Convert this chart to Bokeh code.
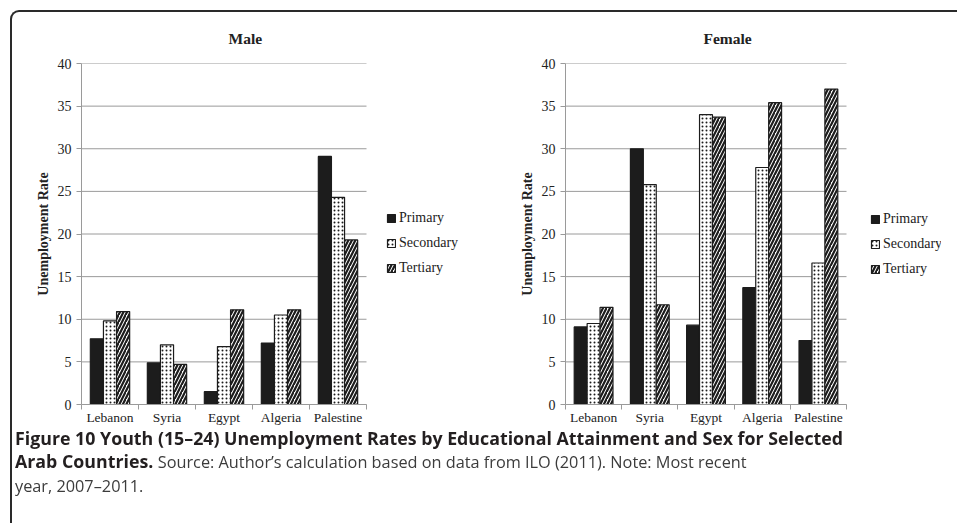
from bokeh.plotting import figure
from bokeh.models import Legend, LegendItem, FixedTicker, Div, Range1d
from bokeh.layouts import row, column
from bokeh.embed import file_html
from bokeh.resources import INLINE

countries = ["Lebanon", "Syria", "Egypt", "Algeria", "Palestine"]
levels = ["Primary", "Secondary", "Tertiary"]

male_primary = [7.7, 4.9, 1.5, 7.2, 29.1]
male_secondary = [9.8, 7.0, 6.8, 10.5, 24.3]
male_tertiary = [10.9, 4.7, 11.1, 11.1, 19.3]

female_primary = [9.1, 30.0, 9.3, 13.7, 7.5]
female_secondary = [9.5, 25.8, 34.0, 27.8, 16.6]
female_tertiary = [11.4, 11.7, 33.7, 35.4, 37.0]

y_ticks = [0, 5, 10, 15, 20, 25, 30, 35, 40]

SERIF = "Liberation Serif"
GRID = "#9a9a9a"
INK = "#1c1c1c"

styles = {
    "Primary": dict(fill_color=INK, hatch_pattern=None),
    "Secondary": dict(fill_color="white", hatch_pattern="dot", hatch_scale=4, hatch_weight=1.1),
    "Tertiary": dict(fill_color="white", hatch_pattern="right_diagonal_line", hatch_scale=7, hatch_weight=2.2),
}


def make_panel(title, series, width, left, right, px_per_cat, title_offset, legend_loc):
    n_cat = len(countries)
    frame_w = width - left - right
    x_end = frame_w / px_per_cat  # extra room on the right of the categories holds the legend
    p = figure(width=width, height=427, x_range=Range1d(0, x_end), y_range=Range1d(0, 40),
               output_backend="svg", toolbar_location=None,
               min_border_left=left, min_border_right=right,
               min_border_top=63, min_border_bottom=17)
    p.outline_line_color = None
    p.title.text = title
    p.title.align = "left"
    p.title.text_font = SERIF
    p.title.text_font_style = "bold"
    p.title.text_font_size = "15.5px"
    p.title.text_color = "#222222"
    p.title.standoff = 34
    p.title.offset = title_offset

    # horizontal gridlines only across the category area
    p.segment(x0=[0] * len(y_ticks), x1=[n_cat] * len(y_ticks), y0=y_ticks, y1=y_ticks,
              line_color=GRID, line_width=1)

    items = []
    n = len(series)
    w = 0.23
    for j, (name, vals) in enumerate(zip(levels, series)):
        xs = [i + 0.5 + (j - (n - 1) / 2) * w for i in range(n_cat)]
        st = styles[name]
        kw = dict(x=xs, top=vals, bottom=0, width=w, line_color=INK, line_width=1.2,
                  fill_color=st["fill_color"])
        if st["hatch_pattern"]:
            kw.update(hatch_pattern=st["hatch_pattern"], hatch_color=INK,
                      hatch_scale=st["hatch_scale"], hatch_weight=st["hatch_weight"])
        r = p.vbar(**kw)
        items.append(LegendItem(label=name, renderers=[r]))

    p.xaxis.bounds = (0, n_cat)
    p.xaxis.ticker = FixedTicker(ticks=[i + 0.5 for i in range(n_cat)],
                                 minor_ticks=list(range(n_cat + 1)))
    p.xaxis.major_label_overrides = {i + 0.5: c for i, c in enumerate(countries)}
    p.xaxis.major_tick_line_color = None
    p.xaxis.major_tick_out = 0
    p.xaxis.major_tick_in = 0
    p.xaxis.minor_tick_line_color = GRID
    p.xaxis.minor_tick_out = 5
    p.xaxis.minor_tick_in = 0
    p.xaxis.axis_line_color = GRID
    p.xaxis.major_label_text_font = SERIF
    p.xaxis.major_label_text_font_size = "13.5px"
    p.xaxis.major_label_text_color = "#222222"
    p.xaxis.major_label_standoff = 0

    p.yaxis.ticker = FixedTicker(ticks=y_ticks)
    p.yaxis.minor_tick_line_color = None
    p.yaxis.major_tick_line_color = GRID
    p.yaxis.major_tick_out = 5
    p.yaxis.major_tick_in = 0
    p.yaxis.axis_line_color = GRID
    p.yaxis.major_label_text_font = SERIF
    p.yaxis.major_label_text_font_size = "14px"
    p.yaxis.major_label_text_color = "#222222"
    p.yaxis.major_label_standoff = 5
    p.yaxis.axis_label = "Unemployment Rate"
    p.yaxis.axis_label_text_font = SERIF
    p.yaxis.axis_label_text_font_style = "bold"
    p.yaxis.axis_label_text_font_size = "14px"
    p.yaxis.axis_label_text_color = "#222222"
    p.yaxis.axis_label_standoff = 4

    p.xgrid.grid_line_color = None
    p.ygrid.grid_line_color = None

    legend = Legend(items=items, location=legend_loc, glyph_width=10, glyph_height=10,
                    label_text_font=SERIF, label_text_font_size="14px",
                    label_text_color="#222222", label_standoff=3, label_height=20,
                    spacing=5, padding=0, margin=0, border_line_color=None,
                    background_fill_alpha=0)
    p.add_layout(legend, "center")
    return p


p1 = make_panel("Male", [male_primary, male_secondary, male_tertiary],
                488, 81, 10, 57.0, 147, (305, 126))
p2 = make_panel("Female", [female_primary, female_secondary, female_tertiary],
                453, 77, 0, 56.2, 138, (305, 125))

caption = Div(
    text=("<div style='position:fixed;left:10px;top:10px;width:1000px;height:600px;"
          "border-top:2px solid #2a2a2a;border-left:2px solid #2a2a2a;border-top-left-radius:9px;"
          "pointer-events:none;box-sizing:border-box'></div>"
          "<div style='position:relative;top:-5px'>"
          "<span style='font-weight:700;color:#231f20;font-size:17.8px'>Figure 10 Youth (15&ndash;24) "
          "Unemployment Rates by Educational Attainment and Sex for Selected<br>Arab Countries.</span> "
          "<span style='color:#3c3c3c;font-size:16.3px'>Source: Author&rsquo;s calculation based on data "
          "from ILO (2011). Note: Most recent<br>year, 2007&ndash;2011.</span></div>"),
    width=935, height=80,
    styles={"font-family": "Open Sans", "font-size": "17px", "line-height": "23px",
            "padding-left": "10px", "white-space": "nowrap"},
)

layout = column(row(p1, p2), caption)

open("out.html", "w").write(file_html(layout, INLINE))
